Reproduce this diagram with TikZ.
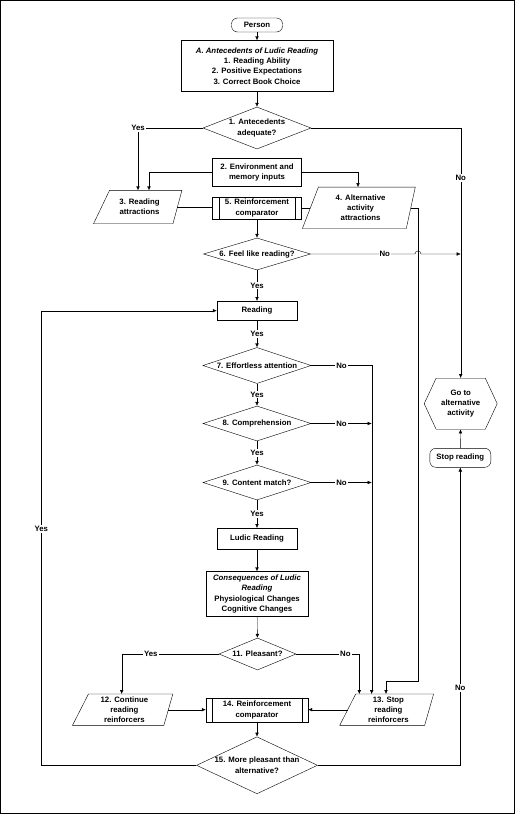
\documentclass[tikz,border=0pt]{standalone}
\usepackage{fontspec}
\setmainfont{Liberation Sans}
\usetikzlibrary{shapes.geometric, shapes.symbols, arrows.meta}
\tikzset{
  ->,
  >={Latex[length=4pt,width=3.6pt]},
  line width=0.7pt,
  every node/.style={font=\fontsize{7.8}{10.2}\selectfont\bfseries},
  box/.style 2 args={draw, rectangle, align=center, inner sep=1pt, minimum width=#1pt, minimum height=#2pt},
  process/.style 2 args={box={#1}{#2},
    append after command={
      ([xshift=6.5pt]\tikzlastnode.north west) edge[-] ([xshift=6.5pt]\tikzlastnode.south west)
      ([xshift=-6.5pt]\tikzlastnode.north east) edge[-] ([xshift=-6.5pt]\tikzlastnode.south east)}},
  decision/.style 2 args={draw, diamond, inner sep=0pt, minimum width=#1pt, minimum height=#2pt},
  data/.style 2 args={rectangle, align=center, inner sep=0pt, minimum width=#1pt, minimum height=#2pt,
    append after command={\pgfextra{\draw[-, line join=miter]
      ([xshift=8pt]\tikzlastnode.north west) -- ([xshift=4.5pt]\tikzlastnode.north east)
      -- ([xshift=-4.5pt]\tikzlastnode.south east) -- ([xshift=-8pt]\tikzlastnode.south west) -- cycle;}}},
  terminal/.style 2 args={draw, rectangle, rounded corners=6pt, inner sep=1pt, minimum width=#1pt, minimum height=#2pt},
  hexa/.style={draw, signal, signal to=east and west, signal pointer angle=130, align=center,
    inner sep=0pt, minimum width=73pt, minimum height=51pt},
  txt/.style={align=center},
  lbl/.style={fill=white, inner sep=1pt},
}

\begin{document}
\begin{tikzpicture}[x=1pt, y=-1pt]
  \useasboundingbox (0,0) rectangle (515,814);
  \draw[-, line width=1pt] (0.5,0.5) rectangle (514.5,813.5);

  % nodes
  \node[terminal={51}{14}] (person) at (257,25) {Person};
  \node[box={152}{51}] (ante) at (257,66)
    {\textit{A. Antecedents of Ludic Reading}\\1. Reading Ability\\2. Positive Expectations\\3. Correct Book Choice};
  \node[decision={108}{42}, label={[txt]center:1. Antecedents\\adequate?}] (adeq) at (257,128) {};
  \node[box={89}{28}] (env) at (257,172.5) {2. Environment and\\memory inputs};
  \node[data={75.5}{33}] (attr) at (139.5,207) {3. Reading\\attractions};
  \node[process={89}{22}] (rcomp) at (257,208) {5. Reinforcement\\comparator};
  \node[data={100}{41}] (alt) at (360.6,207.8) {4. Alternative\\activity\\attractions};
  \node[decision={107}{32}, label={center:6. Feel like reading?}] (feel) at (257,254) {};
  \node[box={80}{19}] (reading) at (257,310.7) {Reading};
  \node[decision={108}{36}, label={center:7. Effortless attention}] (effort) at (257,365.5) {};
  \node[decision={108}{35}, label={center:8. Comprehension}] (compr) at (257,423.5) {};
  \node[decision={108}{35}, label={center:9. Content match?}] (match) at (257,482.5) {};
  \node[box={80}{21}] (ludic) at (257,538.7) {Ludic Reading};
  \node[box={102}{45}] (conseq) at (257,594)
    {\textit{Consequences of Ludic}\\\textit{Reading}\\Physiological Changes\\Cognitive Changes};
  \node[decision={77}{32}, label={center:11. Pleasant?}] (pleas) at (257.5,654) {};
  \node[data={87.5}{31}] (cont) at (124.4,709.7) {12. Continue\\reading\\reinforcers};
  \node[process={102}{24}] (rcomp2) at (257,710) {14. Reinforcement\\comparator};
  \node[data={81}{31}] (stop) at (388.4,709.7) {13. Stop\\reading\\reinforcers};
  \node[decision={121}{57}, label={[txt]center:15. More pleasant than\\alternative?}] (better) at (257,765.3) {};
  \node[hexa] (goalt) at (460.7,403.7) {Go to\\alternative\\activity};
  \node[terminal={61}{19}] (stopread) at (460.3,457.8) {Stop reading};

  % lanes
  \coordinate (yesA) at (138,0);
  \coordinate (envL) at (149,0);
  \coordinate (envR) at (358,0);
  \coordinate (yesB) at (121.7,0);
  \coordinate (noP) at (359.3,0);
  \coordinate (noN) at (371.7,0);
  \coordinate (altR) at (418,0);
  \coordinate (altS) at (386,680.7);
  \coordinate (back) at (41.3,0);

  % connectors
  \draw (person) -- (ante);
  \draw (ante) -- (adeq);
  \draw (adeq.west) -| node[lbl]{Yes} (yesA |- attr.north);
  \draw (adeq.east) -| node[lbl, pos=0.6]{No} (goalt.north);
  \draw (env.west) -| (envL |- attr.north);
  \draw (env.east) -| (envR |- alt.north);
  \draw[-] (attr.east) -- (attr.east -| rcomp.west);
  \draw[-] (alt.west) -- (alt.west -| rcomp.east);
  \draw (rcomp) -- (feel);
  \draw (feel.east) -- node[lbl, pos=0.71]{No} ([xshift=-3pt]feel.east -| altR)
    arc[start angle=180, end angle=0, radius=3pt] -- (feel.east -| goalt.north);
  \draw (alt.east) -| (altR |- altS) -| (altS |- stop.north);
  \draw (feel) -- node[lbl]{Yes} (reading);
  \draw (reading) -- node[lbl]{Yes} (effort);
  \draw (effort) -- node[lbl]{Yes} (compr);
  \draw (compr) -- node[lbl]{Yes} (match);
  \draw (match) -- node[lbl]{Yes} (ludic);
  \draw (ludic) -- (conseq);
  \draw (conseq) -- (pleas);
  \draw (effort.east) -- node[lbl]{No} (effort.east -| noN) -- (noN |- stop.north);
  \draw (compr.east) -- node[lbl]{No} (compr.east -| noN);
  \draw (match.east) -- node[lbl]{No} (match.east -| noN);
  \draw (pleas.west) -| node[lbl, pos=0.35]{Yes} (yesB |- cont.north);
  \draw (pleas.east) -| node[lbl, pos=0.39]{No} (noP |- stop.north);
  \draw (cont.east) -- (cont.east -| rcomp2.west);
  \draw (stop.west) -- (stop.west -| rcomp2.east);
  \draw (rcomp2) -- (better);
  \draw (better.west) -- (better.west -| back) -- node[lbl, pos=0.52]{Yes} (back |- reading.west) -- (reading.west);
  \draw (better.east) -| node[lbl, pos=0.63]{No} (stopread.south);
  \draw (stopread) -- (goalt);
\end{tikzpicture}
\end{document}
